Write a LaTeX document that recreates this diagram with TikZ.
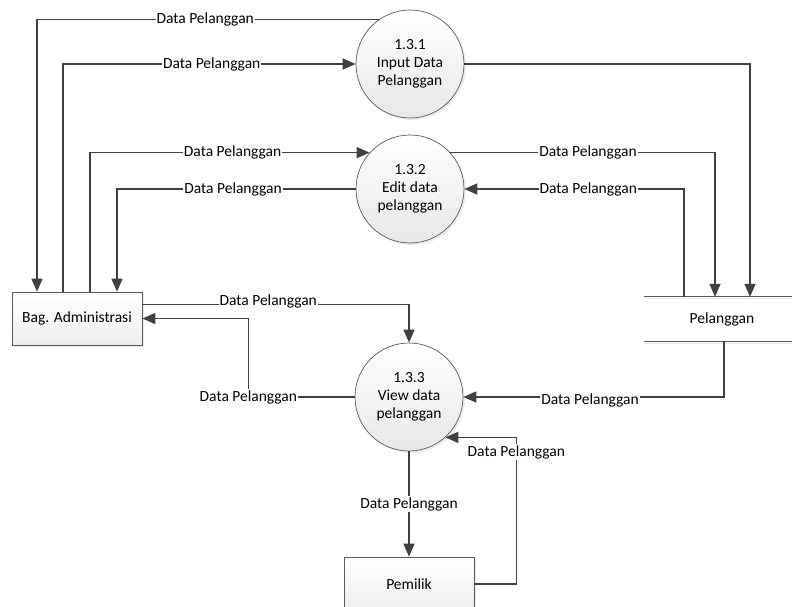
\documentclass[tikz,border=0pt]{standalone}
\usepackage{fontspec}
\setmainfont{Carlito}
\usetikzlibrary{arrows.meta,shadows}
\definecolor{ln}{HTML}{404040}
\definecolor{bd}{HTML}{595959}
\begin{document}
\begin{tikzpicture}[x=1pt,y=-1pt,
  flow/.style={draw=ln, line width=1.6pt, -{Triangle[length=13pt,width=11pt]}},
  lbl/.style={fill=white, inner sep=1pt, text=black, font=\fontsize{15.5}{18}\selectfont},
  proc/.style={circle, minimum size=108pt, inner sep=0pt, draw=bd, line width=0.7pt,
    top color=white, bottom color=black!9, align=center,
    font=\fontsize{15.5}{18}\selectfont,
    drop shadow={shadow xshift=2pt, shadow yshift=-2pt, fill=black!14}},
  ent/.style={rectangle, inner sep=0pt, draw=bd, line width=0.7pt,
    top color=white, bottom color=black!7,
    font=\fontsize{15.5}{18}\selectfont,
    drop shadow={shadow xshift=2pt, shadow yshift=-2pt, fill=black!14}},
  store/.style={rectangle, inner sep=0pt, font=\fontsize{15.5}{18}\selectfont}
]
\useasboundingbox (0,0) rectangle (792,607);

% processes
\node[proc] (p1) at (410,64) {1.3.1\\Input Data\\Pelanggan};
\node[proc] (p2) at (410,189) {1.3.2\\Edit data\\pelanggan};
\node[proc] (p3) at (409,397) {1.3.3\\View data\\pelanggan};

% entities
\node[ent, minimum width=130pt, minimum height=53pt] (adm) at (77,318.5) {Bag. Administrasi};
\node[ent, minimum width=130pt, minimum height=54pt] (pem) at (409,584) {Pemilik};

% data store
\node[store, minimum width=156pt, minimum height=44pt] (st) at (722,319) {Pelanggan};
\draw[draw=black!8, line width=1.2pt] ([yshift=-2pt]st.north west) -- ([yshift=-2pt]st.north east);
\draw[draw=black!8, line width=1.2pt] ([yshift=-2pt]st.south west) -- ([yshift=-2pt]st.south east);
\draw[draw=bd, line width=0.8pt] (st.north west) -- (st.north east);
\draw[draw=bd, line width=0.8pt] (st.south west) -- (st.south east);

% flows
\draw[flow] (p1.125) -| node[lbl,pos=0.254]{Data Pelanggan} ([xshift=-40pt]adm.north);
\draw[flow] ([xshift=-14pt]adm.north) |- node[lbl,pos=0.754]{Data Pelanggan} (p1.west);
\draw[flow] (p1.east) -| ([xshift=28pt]st.north);

\draw[flow] ([xshift=13pt]adm.north) |- node[lbl,pos=0.755]{Data Pelanggan} (p2.138);
\draw[flow] (p2.west) -| node[lbl,pos=0.257]{Data Pelanggan} ([xshift=40pt]adm.north);

\draw[flow] (p2.42) -| node[lbl,pos=0.26]{Data Pelanggan} ([xshift=-7pt]st.north);
\draw[flow] ([xshift=-38pt]st.north) |- node[lbl,pos=0.718]{Data Pelanggan} (p2.east);

\draw[flow] ([yshift=14pt]adm.east) -| node[lbl,pos=0.236,yshift=3pt]{Data Pelanggan} (p3.north);
\draw[flow] (p3.west) -| node[lbl]{Data Pelanggan} ([xshift=106pt]adm.east) -- (adm.east);

\draw[flow] ([xshift=2pt]st.south) |- node[lbl,pos=0.757,yshift=-3pt]{Data Pelanggan} (p3.east);

\draw[flow] (p3.south) -- node[lbl]{Data Pelanggan} (pem.north);
\draw[flow] (pem.east) -- ++(42,0) |- node[lbl,pos=0.45]{Data Pelanggan} (p3.-48);
\end{tikzpicture}
\end{document}
